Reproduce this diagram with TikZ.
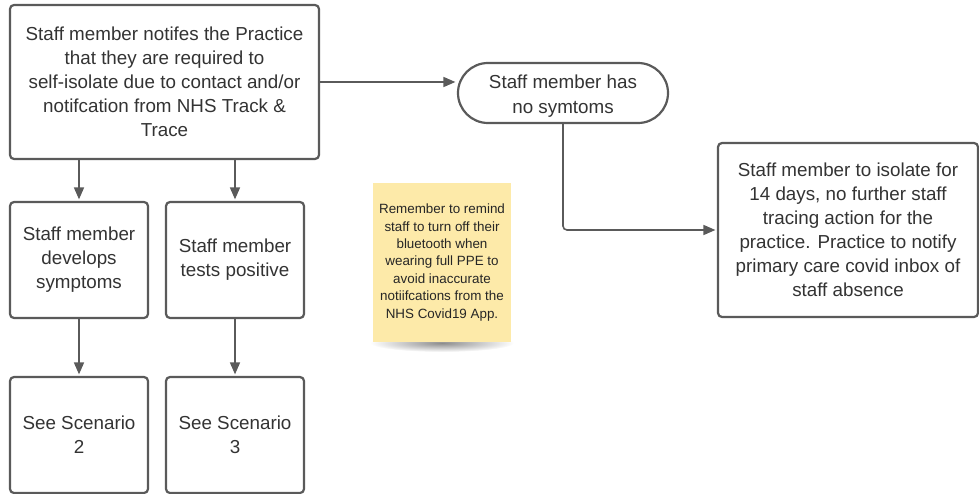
\documentclass[tikz,border=0pt]{standalone}
\usepackage{fontspec}
\setmainfont{Liberation Sans}
\usetikzlibrary{arrows.meta,shapes.misc}
\definecolor{edge}{HTML}{5A5A5A}
\definecolor{txt}{HTML}{333333}
\definecolor{notefill}{HTML}{FDEAA9}
\begin{document}
\begin{tikzpicture}[x=1pt,y=-1pt,
  box/.style={draw=edge, line width=2.2pt, rounded corners=4pt, fill=white, text=txt,
    align=center, inner sep=0pt, font=\fontsize{18.8}{24}\selectfont},
  stad/.style={draw=edge, line width=2.2pt, rounded rectangle, fill=white, text=txt,
    align=center, inner sep=0pt, font=\fontsize{18.8}{25.5}\selectfont},
  stickynote/.style={fill=notefill, text=black!85, align=center, inner sep=0pt,
    font=\fontsize{13.4}{17.4}\selectfont},
  arr/.style={draw=edge, line width=1.6pt, -{Triangle[length=12pt,width=10pt]}, shorten >=1.5pt},
]
\useasboundingbox (0,0) rectangle (979,494);

\node[box, minimum width=309pt, minimum height=154pt] (top) at (164.5,82)
  {Staff member notifes the Practice\\that they are required to\\self-isolate due to contact and/or\\notifcation from NHS Track \&\\Trace};
\node[box, minimum width=138pt, minimum height=116pt] (dev) at (79,260)
  {Staff member\\develops\\symptoms};
\node[box, minimum width=138pt, minimum height=116pt] (pos) at (235,260)
  {Staff member\\tests positive};
\node[box, minimum width=138pt, minimum height=116pt] (sc2) at (79,435)
  {See Scenario\\2};
\node[box, minimum width=138pt, minimum height=116pt] (sc3) at (235,435)
  {See Scenario\\3};
\node[stad, minimum width=210pt, minimum height=60pt] (nosym) at (563,93)
  {};
\node[text=txt, align=center, inner sep=0pt, font=\fontsize{18.8}{25.5}\selectfont] (nosymtext) at (563,96)
  {Staff member has\\no symtoms};
\node[box, minimum width=260pt, minimum height=174pt] (iso) at (848,230)
  {Staff member to isolate for\\14 days, no further staff\\tracing action for the\\practice. Practice to notify\\primary care covid inbox of\\staff absence};

\shade[inner color=black!45, outer color=white] (442,343) ellipse (72pt and 9pt);
\node[stickynote, minimum width=138pt, minimum height=159pt] (memo) at (442,262.5)
  {Remember to remind\\staff to turn off their\\bluetooth when\\wearing full PPE to\\avoid inaccurate\\notiifcations from the\\NHS Covid19 App.};

\draw[arr] (dev.north |- top.south) -- (dev.north);
\draw[arr] (pos.north |- top.south) -- (pos.north);
\draw[arr] (dev.south) -- (sc2.north);
\draw[arr] (pos.south) -- (sc3.north);
\draw[arr] (top.east) -- (top.east -| nosym.west);
\draw[arr, rounded corners=4pt] (nosym.south) |- (iso.west);
\end{tikzpicture}
\end{document}
